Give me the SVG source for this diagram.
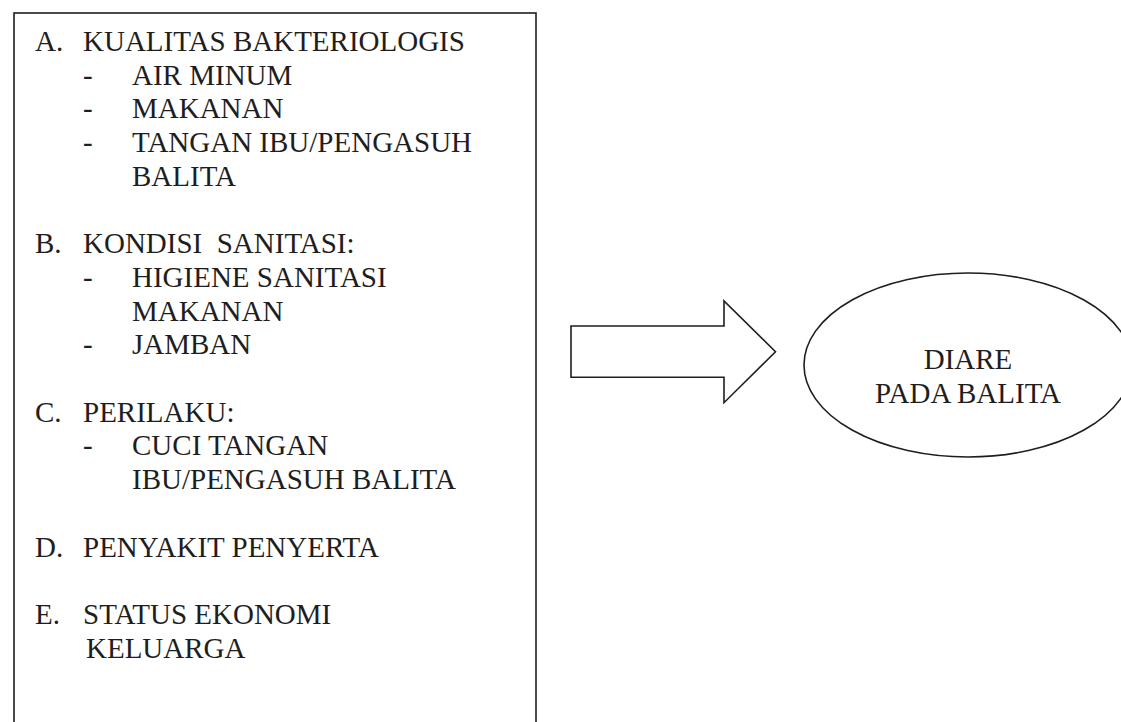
<svg xmlns="http://www.w3.org/2000/svg" width="1121" height="722" viewBox="0 0 1121 722">
<style>
text{font-family:"Liberation Serif","Times New Roman",serif;font-size:29px;fill:#1e1e1e}
.shape{fill:#fff;stroke:#1e1e1e;stroke-width:1.6}
.c{text-anchor:middle}
</style>
<rect width="1121" height="722" fill="#fff"/>
<g id="factors">
<rect class="shape" x="14" y="13" width="522" height="730"/>
<text x="35" y="51">A.</text><text x="83" y="51">KUALITAS BAKTERIOLOGIS</text>
<text x="83" y="84.7">-</text><text x="132" y="84.7">AIR MINUM</text>
<text x="83" y="118.4">-</text><text x="132" y="118.4">MAKANAN</text>
<text x="83" y="152.1">-</text><text x="132" y="152.1">TANGAN IBU/PENGASUH</text>
<text x="132" y="185.8">BALITA</text>
<text x="35" y="253.2">B.</text><text x="83" y="253.2" xml:space="preserve">KONDISI  SANITASI:</text>
<text x="83" y="286.9">-</text><text x="132" y="286.9">HIGIENE SANITASI</text>
<text x="132" y="320.6">MAKANAN</text>
<text x="83" y="354.3">-</text><text x="132" y="354.3">JAMBAN</text>
<text x="35" y="421.7">C.</text><text x="83" y="421.7">PERILAKU:</text>
<text x="83" y="455.4">-</text><text x="132" y="455.4">CUCI TANGAN</text>
<text x="132" y="489.1">IBU/PENGASUH BALITA</text>
<text x="35" y="556.5">D.</text><text x="83" y="556.5">PENYAKIT PENYERTA</text>
<text x="35" y="623.9">E.</text><text x="83" y="623.9">STATUS EKONOMI</text>
<text x="86" y="657.6">KELUARGA</text>
</g>
<g id="connectors">
<polygon class="shape" points="571,326 724,326 724,301 775.5,351.7 724,402.7 724,377.3 571,377.3"/>
</g>
<g id="outcome">
<ellipse class="shape" cx="968" cy="365" rx="164" ry="92"/>
<text class="c" x="968" y="369.3">DIARE</text>
<text class="c" x="968" y="402.7">PADA BALITA</text>
</g>
</svg>
